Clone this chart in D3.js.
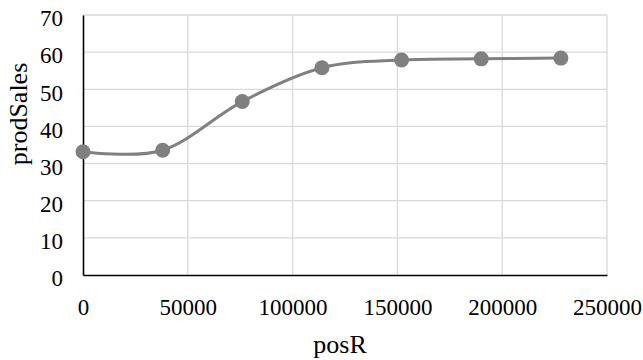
<!DOCTYPE html>
<html lang="en">
<head>
    <meta charset="UTF-8">
    <title>prodSales vs posR</title>
    <script src="https://d3js.org/d3.v7.min.js"></script>
    <style>
        body { margin: 0; background: #fff; }
        text { font-family: "Liberation Serif", "Times New Roman", serif; fill: #000; }
    </style>
</head>
<body>
    <div id="chart"></div>
    <script>
        // Data
        const posR = [0, 38000, 76000, 114000, 152000, 190000, 228000];
        const prodSales = [33.2, 33.6, 46.7, 55.8, 57.9, 58.2, 58.4];
        const xTicks = [0, 50000, 100000, 150000, 200000, 250000];
        const yTicks = [0, 10, 20, 30, 40, 50, 60, 70];

        const width = 643;
        const height = 360;
        const margin = {left: 83, right: 36, top: 15, bottom: 85};
        const tickFont = "23px";
        const titleFont = "26px";

        const svg = d3.select("#chart")
            .append("svg")
            .attr("width", width)
            .attr("height", height);

        const x = d3.scaleLinear().domain([0, 250000]).range([margin.left, width - margin.right]);
        const y = d3.scaleLinear().domain([0, 70]).range([height - margin.bottom, margin.top]);

        // Gridlines
        svg.append("g")
            .selectAll("line")
            .data(yTicks.slice(1))
            .enter()
            .append("line")
            .attr("x1", x(0))
            .attr("x2", x(250000))
            .attr("y1", d => y(d))
            .attr("y2", d => y(d))
            .attr("stroke", "#d9d9d9")
            .attr("stroke-width", 1.3);

        svg.append("g")
            .selectAll("line")
            .data(xTicks.slice(1))
            .enter()
            .append("line")
            .attr("x1", d => x(d))
            .attr("x2", d => x(d))
            .attr("y1", y(0))
            .attr("y2", y(70))
            .attr("stroke", "#d9d9d9")
            .attr("stroke-width", 1.3);

        // Axes
        const xAxis = svg.append("g")
            .attr("transform", `translate(0,${y(0)})`)
            .call(d3.axisBottom(x).tickValues(xTicks).tickSize(0).tickPadding(24).tickFormat(d3.format("d")));
        xAxis.select(".domain").attr("stroke", "#000").attr("stroke-width", 1.6);
        xAxis.selectAll("text").style("font-size", tickFont).style("font-family", "Liberation Serif");

        const yAxis = svg.append("g")
            .attr("transform", `translate(${x(0)},0)`)
            .call(d3.axisLeft(y).tickValues(yTicks).tickSize(0).tickPadding(20));
        yAxis.select(".domain").attr("stroke", "#000").attr("stroke-width", 1.6);
        yAxis.selectAll("text")
            .attr("dy", "0.47em")
            .style("font-size", tickFont)
            .style("font-family", "Liberation Serif");

        // Axis titles
        svg.append("text")
            .attr("x", 340)
            .attr("y", 353)
            .attr("text-anchor", "middle")
            .style("font-size", titleFont)
            .text("posR");

        svg.append("text")
            .attr("transform", "translate(27,114) rotate(-90)")
            .attr("text-anchor", "middle")
            .style("font-size", titleFont)
            .text("prodSales");

        // Smoothed line
        const points = posR.map((d, i) => [d, prodSales[i]]);
        const line = d3.line()
            .x(d => x(d[0]))
            .y(d => y(d[1]))
            .curve(d3.curveCardinal.tension(0));

        svg.append("path")
            .datum(points)
            .attr("d", line)
            .attr("fill", "none")
            .attr("stroke", "#808080")
            .attr("stroke-width", 3);

        svg.append("g")
            .selectAll("circle")
            .data(points)
            .enter()
            .append("circle")
            .attr("cx", d => x(d[0]))
            .attr("cy", d => y(d[1]))
            .attr("r", 7.5)
            .attr("fill", "#808080");
    </script>
</body>
</html>
